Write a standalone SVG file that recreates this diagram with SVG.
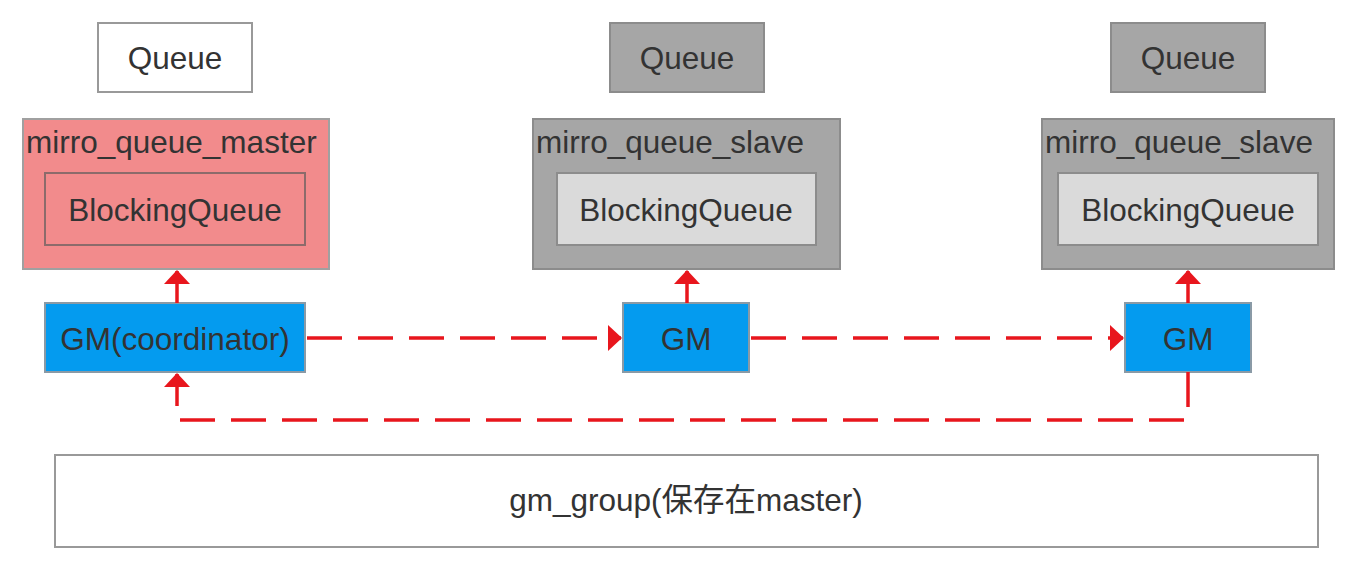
<svg xmlns="http://www.w3.org/2000/svg" width="1371" height="580" viewBox="0 0 1371 580">
<style>
text{font-family:"Liberation Sans",Arial,"Noto Sans CJK SC",sans-serif;font-size:31.5px;fill:#333}
.c{text-anchor:middle}
.white{fill:#fff;stroke:#999;stroke-width:2}
.gray{fill:#a6a6a6;stroke:#8c8c8c;stroke-width:2}
.light{fill:#dadada;stroke:#8c8c8c;stroke-width:2}
.pink{fill:#f28b8c;stroke:#a0a0a0;stroke-width:2}
.pinkin{fill:#f28b8c;stroke:#8c6b6b;stroke-width:2}
.blue{fill:#049bef;stroke:#8a9aa6;stroke-width:2}
.solid{stroke:#e8161d;stroke-width:3.5;fill:none}
.dash{stroke:#e8161d;stroke-width:3.5;fill:none;stroke-dasharray:35 16}
</style>
<defs>
<marker id="ah" markerUnits="userSpaceOnUse" markerWidth="14" markerHeight="26" refX="13" refY="13" orient="auto">
<path d="M0,0 L14,13 L0,26 Z" fill="#e8161d"/>
</marker>
</defs>
<rect width="1371" height="580" fill="#fff"/>
<g id="queue1"><rect class="white" x="98" y="23" width="154" height="69"/><text class="c" x="175" y="69">Queue</text></g>
<g id="queue2"><rect class="gray" x="610" y="23" width="154" height="69"/><text class="c" x="687" y="69">Queue</text></g>
<g id="queue3"><rect class="gray" x="1111" y="23" width="154" height="69"/><text class="c" x="1188" y="69">Queue</text></g>
<g id="master"><rect class="pink" x="23" y="119" width="306" height="150"/><text x="26" y="153">mirro_queue_master</text>
<rect class="pinkin" x="45" y="173" width="260" height="72"/><text class="c" x="175" y="221">BlockingQueue</text></g>
<g id="slave1"><rect class="gray" x="533" y="119" width="307" height="150"/><text x="536" y="153">mirro_queue_slave</text>
<rect class="light" x="557" y="173" width="259" height="72"/><text class="c" x="686" y="221">BlockingQueue</text></g>
<g id="slave2"><rect class="gray" x="1042" y="119" width="292" height="150"/><text x="1045" y="153">mirro_queue_slave</text>
<rect class="light" x="1058" y="173" width="260" height="72"/><text class="c" x="1188" y="221">BlockingQueue</text></g>
<g id="gm1"><rect class="blue" x="45" y="303" width="260" height="69"/><text class="c" x="175" y="350">GM(coordinator)</text></g>
<g id="gm2"><rect class="blue" x="623" y="303" width="126" height="69"/><text class="c" x="686" y="350">GM</text></g>
<g id="gm3"><rect class="blue" x="1125" y="303" width="126" height="69"/><text class="c" x="1188" y="350">GM</text></g>
<g id="gmgroup"><rect class="white" x="55" y="455" width="1263" height="92"/><text class="c" x="686" y="511">gm_group(保存在master)</text></g>
<g id="connectors">
<line class="solid" x1="177" y1="303" x2="177" y2="271" marker-end="url(#ah)"/>
<line class="solid" x1="687" y1="303" x2="687" y2="271" marker-end="url(#ah)"/>
<line class="solid" x1="1188" y1="303" x2="1188" y2="271" marker-end="url(#ah)"/>
<line class="dash" x1="307" y1="338" x2="621" y2="338" marker-end="url(#ah)"/>
<line class="dash" x1="751" y1="338" x2="1123" y2="338" marker-end="url(#ah)"/>
<line class="solid" x1="1188" y1="372" x2="1188" y2="407"/>
<line class="dash" x1="1184" y1="420" x2="180" y2="420"/>
<line class="solid" x1="177" y1="406" x2="177" y2="374" marker-end="url(#ah)"/>
</g>
</svg>
